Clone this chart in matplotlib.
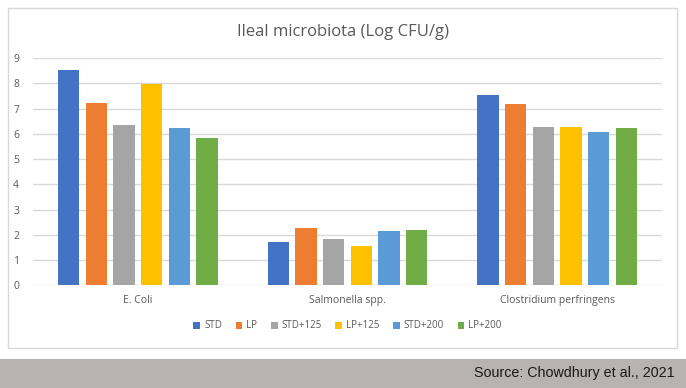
import matplotlib
matplotlib.use('Agg')
import matplotlib.pyplot as plt
import numpy as np
from matplotlib.patches import Rectangle

# Data
categories = ['E. Coli', 'Salmonella spp.', 'Clostridium perfringens']
series = ['STD', 'LP', 'STD+125', 'LP+125', 'STD+200', 'LP+200']
std = [8.52, 1.73, 7.53]
lp = [7.22, 2.28, 7.17]
std125 = [6.36, 1.85, 6.28]
lp125 = [7.98, 1.57, 6.28]
std200 = [6.21, 2.16, 6.06]
lp200 = [5.84, 2.20, 6.24]
yticks = list(range(0, 10))

values = [std, lp, std125, lp125, std200, lp200]
colors = ['#4472C4', '#ED7D31', '#A5A5A5', '#FFC000', '#5B9BD5', '#70AD47']
text_color = '#595959'

plt.rcParams['font.family'] = ['Open Sans', 'DejaVu Sans']

fig = plt.figure(figsize=(6.86, 3.88), dpi=100)
W, H = 686, 388

# outer chart frame and grey source band (behind the axes)
fig.patches.append(Rectangle((8 / W, 1 - 348 / H), 669 / W, 340 / H, transform=fig.transFigure,
                             facecolor='white', edgecolor='#d9d9d9', linewidth=1, zorder=-2))
fig.patches.append(Rectangle((0, 0), 1, 29 / H, transform=fig.transFigure,
                             facecolor='#b8b3b1', edgecolor='none', zorder=-2))

ax = fig.add_axes([33 / W, 1 - 285.3 / H, 629 / W, 227.3 / H])
x = np.arange(len(categories))
pitch = 0.132
width = 0.102
for i, (name, vals) in enumerate(zip(series, values)):
    ax.bar(x + (i - 2.5) * pitch, vals, width, color=colors[i], label=name, zorder=3)

ax.set_xlim(-0.5, len(categories) - 0.5)
ax.set_ylim(0, 9)
ax.set_yticks(yticks)
ax.set_xticks(x)
ax.set_xticklabels(categories)
ax.tick_params(axis='both', length=0, colors=text_color, labelsize=7.5)
ax.tick_params(axis='y', pad=10)
ax.tick_params(axis='x', pad=7)
ax.grid(axis='y', color='#d9d9d9', linewidth=1, zorder=0)
for s in ax.spines.values():
    s.set_visible(False)
ax.set_facecolor('none')

fig.text(0.5, 1 - 32 / H, 'Ileal microbiota (Log CFU/g)', ha='center', va='center',
         fontsize=12, color=text_color)

ax.legend(loc='center', bbox_to_anchor=(0.5, (1 - 326 / H - (1 - 285.3 / H)) / (227.3 / H)),
          ncol=6, frameon=False, fontsize=7, labelcolor=text_color, handlelength=0.7,
          handleheight=0.7, handletextpad=0.4, columnspacing=1.4)

fig.text(675 / W, 1 - 373 / H, 'Source: Chowdhury et al., 2021', ha='right', va='center',
         fontsize=10.3, color='#1a1a1a', family='Liberation Sans')

fig.savefig('out.png', dpi=100)
